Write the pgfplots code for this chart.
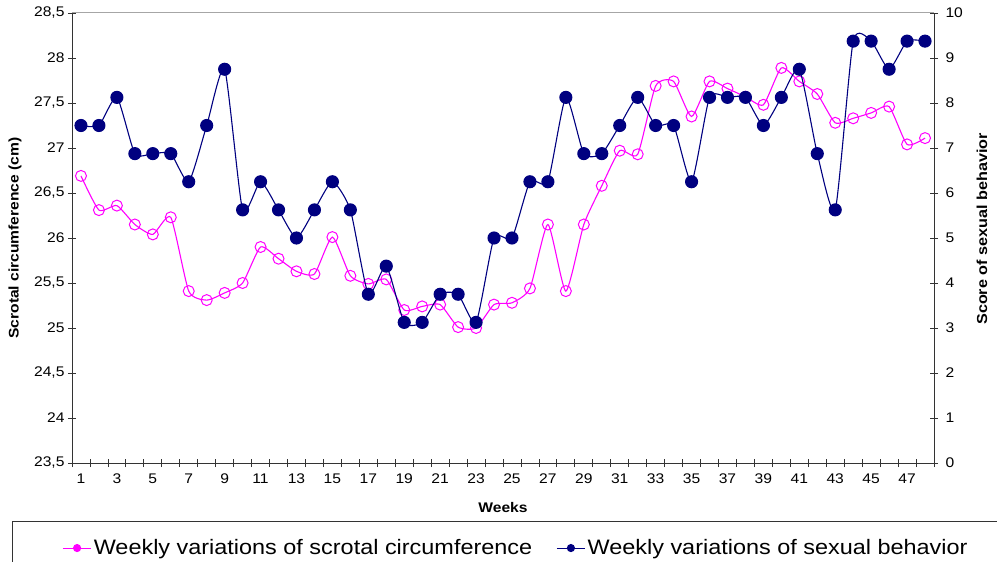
\documentclass[border=0pt]{standalone}
\usepackage{pgfplots}
\pgfplotsset{compat=1.18}
\usepackage{pgfplotstable}
\usepackage{fontspec}
\setmainfont{Liberation Sans}[FakeStretch=1.12]
\definecolor{navy}{RGB}{0,0,128}
\definecolor{mag}{RGB}{255,0,255}

\pgfplotstableread{
w s
1 26.69
2 26.31
3 26.36
4 26.15
5 26.04
6 26.23
7 25.41
8 25.31
9 25.39
10 25.50
11 25.90
12 25.77
13 25.63
14 25.60
15 26.01
16 25.58
17 25.49
18 25.54
19 25.20
20 25.24
21 25.26
22 25.01
23 25.00
24 25.26
25 25.28
26 25.44
27 26.15
28 25.41
29 26.15
30 26.58
31 26.97
32 26.93
33 27.69
34 27.74
35 27.35
36 27.74
37 27.66
38 27.57
39 27.48
40 27.89
41 27.74
42 27.60
43 27.28
44 27.33
45 27.39
46 27.46
47 27.04
48 27.11
}\scrotal

\pgfplotstableread{
w b
1 7.5
2 7.5
3 8.125
4 6.875
5 6.875
6 6.875
7 6.25
8 7.5
9 8.75
10 5.625
11 6.25
12 5.625
13 5.0
14 5.625
15 6.25
16 5.625
17 3.75
18 4.375
19 3.125
20 3.125
21 3.75
22 3.75
23 3.125
24 5.0
25 5.0
26 6.25
27 6.25
28 8.125
29 6.875
30 6.875
31 7.5
32 8.125
33 7.5
34 7.5
35 6.25
36 8.125
37 8.125
38 8.125
39 7.5
40 8.125
41 8.75
42 6.875
43 5.625
44 9.375
45 9.375
46 8.75
47 9.375
48 9.375
}\behav

\begin{document}
\begin{tikzpicture}
\pgfplotsset{
  base/.style={
    scale only axis, width=862bp, height=450bp,
    xmin=0.5, xmax=48.5,
    tick align=center,
    major tick length=8bp, minor tick length=8bp,
    /pgf/number format/assume math mode=true,
    ticklabel style={font=\fontsize{14}{16}\selectfont},
    axis line style={-, black!80, line width=0.9bp},
    every tick/.style={black!80, line width=0.8bp},
    every minor tick/.style={black!80, line width=0.8bp},
    label style={font=\bfseries\fontsize{14}{16}\selectfont},
  }
}
\begin{axis}[base,
  axis x line*=bottom, axis y line*=left,
  ymin=23.5, ymax=28.5,
  ytick={23.5,24,24.5,25,25.5,26,26.5,27,27.5,28,28.5},
  yticklabel style={/pgf/number format/.cd, fixed, use comma, precision=1},
  xtick={1,3,...,47},
  xticklabel style={yshift=-3bp},
  major x tick style={draw=none},
  minor xtick={0.5,1.5,...,48.5},
  xlabel={Weeks},
  xlabel style={at={(axis description cs:0.5,-0.1)}, anchor=center},
  ylabel={Scrotal circumference (cm)},
  ylabel style={at={(axis description cs:-0.0661,0.5)}, anchor=center},
]
\addplot[mag, line width=1.1bp, smooth, tension=0.35, mark=o, mark size=5.5bp,
  mark options={fill=white, line width=1bp, solid}] table[x=w, y=s] {\scrotal};
\end{axis}
\begin{axis}[base,
  axis x line=none, axis y line*=right,
  ymin=0, ymax=10, ytick={0,1,...,10},
  yticklabel style={xshift=4bp},
  ylabel={Score of sexual behavior},
  ylabel style={at={(axis description cs:1.0557,0.52)}, anchor=center, rotate=0,
    font=\bfseries\fontsize{14.5}{16}\selectfont},
  legend columns=2,
  legend image code/.code={\draw[mark repeat=2,mark phase=2,#1] plot coordinates {(0cm,0cm) (0.5cm,0cm) (1cm,0cm)};},
  legend style={draw=none, fill=none, at={(axis description cs:0.515,-0.189)}, anchor=center,
    font=\fontsize{21}{24}\selectfont,
    /tikz/every even column/.append style={column sep=22bp},
    inner sep=0pt},
]
\addlegendimage{mag, line width=1.1bp, mark=*, mark size=3.5bp}
\addlegendentry{Weekly variations of scrotal circumference}
\addlegendimage{navy, line width=1.1bp, mark=*, mark size=3.5bp}
\addlegendentry{Weekly variations of sexual behavior}
\addplot[navy, line width=1.1bp, smooth, tension=0.35, mark=*, mark size=6bp,
  mark options={solid}, forget plot] table[x=w, y=b] {\behav};
\end{axis}
\draw[black!35, line width=1bp] (0,450bp) -- (862bp,450bp);
\draw[black!80, line width=0.9bp] (-60bp,-58bp) rectangle (1000bp,-130bp);
\pgfresetboundingbox
\path[use as bounding box] (-72bp,-99bp) rectangle (925bp,463bp);
\end{tikzpicture}
\end{document}
